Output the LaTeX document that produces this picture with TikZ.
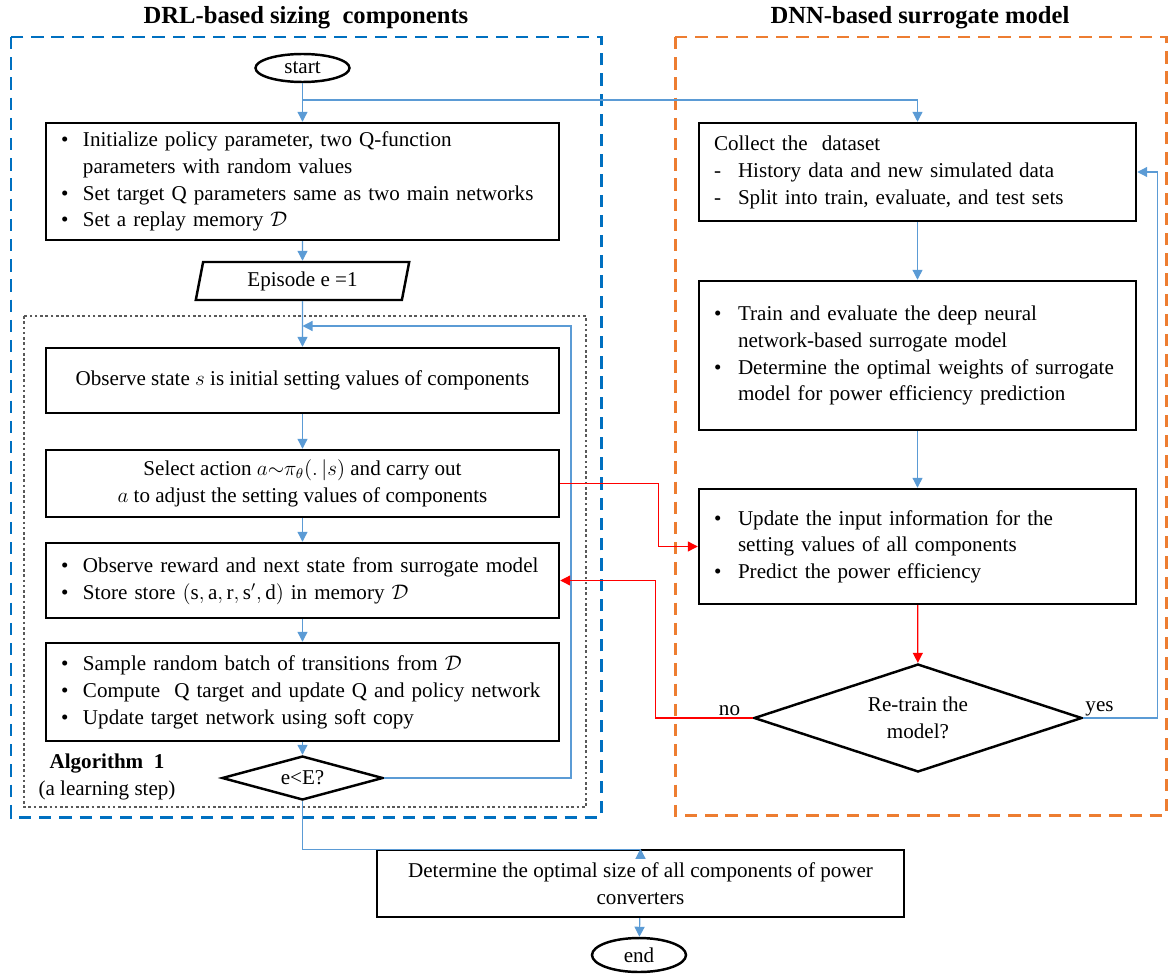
\documentclass[tikz,border=0pt]{standalone}
\usepackage{fontspec}
\setmainfont{Liberation Serif}
\usetikzlibrary{%
		shapes.geometric%
		,arrows.meta%
	}
\definecolor{linkblue}{RGB}{91,155,213}
\definecolor{frameblue}{RGB}{0,112,192}
\definecolor{frameorange}{RGB}{237,125,49}
\newcommand{\bodyfont}{\fontsize{12}{15.2}\selectfont}
\newcommand{\titlefont}{\fontsize{14}{17}\selectfont\bfseries}
\def\pu{0.02cm}
\newenvironment{blist}[1]{\begin{tabular}{@{}p{#1}@{}l@{}}}{\end{tabular}}

\begin{document}
\begin{tikzpicture}[x=0.02cm, y=-0.02cm,
		blk/.style={draw, line width=1.4pt, inner xsep=0.3cm, inner ysep=0pt, font=\bodyfont},
		term/.style={draw, ellipse, line width=1.4pt, inner sep=0pt, font=\bodyfont},
		cond/.style={draw, diamond, line width=1.4pt, inner sep=0pt, aspect=3, font=\bodyfont},
		io/.style={draw, trapezium, trapezium left angle=78, trapezium right angle=102, trapezium stretches=true, line width=1.4pt, inner sep=0pt, font=\bodyfont},
		flow/.style={linkblue, line width=0.7pt, -{Triangle[length=0.2cm, width=0.2cm]}},
		back/.style={red, line width=0.7pt, -{Triangle[length=0.2cm, width=0.2cm]}},
	]
			\useasboundingbox (0,0) rectangle (1168,973);
			\node[font=\titlefont] (ttlDRL) at (306,18) {DRL-based sizing\ \ components};
			\node[font=\titlefont] (ttlDNN) at (920,18) {DNN-based surrogate model};
			
			% frames
			\draw[frameblue, line width=1.7pt, dash pattern=on 7pt off 4.5pt] (11,37) rectangle (601,817);
			\draw[frameorange, line width=1.7pt, dash pattern=on 7pt off 4.5pt] (675,37) rectangle (1166,815);
			\draw[gray!70!black, line width=0.7pt, dash pattern=on 1.5pt off 1.5pt] (24,316) rectangle (586,807);
			
			% left column
			\node[term, minimum width=94*\pu, minimum height=28*\pu] (start) at (302.5,68) {start};
			\node[blk, text width=483*\pu, minimum height=117*\pu] (init) at (302.5,181.5) {%
				\begin{blist}{0.44cm}
				\textbullet & Initialize policy parameter, two Q-function\\
				& parameters with random values\\
				\textbullet & Set target Q parameters same as two main networks\\
				\textbullet & Set a replay memory $\mathcal{D}$
				\end{blist}};
			\node[io, minimum width=214*\pu, minimum height=38*\pu] (epi) at (302.5,281) {Episode e =1};
			\node[blk, minimum width=513*\pu, minimum height=65*\pu] (observe) at (302.5,380.5) {Observe state $s$ is initial setting values of components};
			\node[blk, align=center, minimum width=513*\pu, minimum height=67*\pu] (select) at (302.5,483.5) {Select action $a{\sim}\pi_\theta(.\,|s)$ and carry out\\ $a$ to adjust the setting values of components};
			\node[blk, text width=483*\pu, minimum height=75*\pu] (reward) at (302.5,580.5) {%
				\begin{blist}{0.44cm}
				\textbullet & Observe reward and next state from surrogate model\\
				\textbullet & Store store $(\mathrm{s},\mathrm{a},\mathrm{r},\mathrm{s}',\mathrm{d})$ in memory $\mathcal{D}$
				\end{blist}};
			\node[blk, text width=483*\pu, minimum height=98*\pu] (sample) at (302.5,692) {%
				\begin{blist}{0.44cm}
				\textbullet & Sample random batch of transitions from $\mathcal{D}$\\
				\textbullet & Compute\ \ Q target and update Q and policy network\\
				\textbullet & Update target network using soft copy
				\end{blist}};
			\node[cond, minimum width=161*\pu, minimum height=44*\pu] (check) at (302.5,778) {e<E?};
			\node[font=\bodyfont\bfseries] (algo) at (107,763) {Algorithm\ \ 1};
			\node[font=\bodyfont] (algonote) at (107,790) {(a learning step)};
			
			% right column
			\node[blk, text width=407*\pu, minimum height=98*\pu] (collect) at (917.5,172) {%
				\begin{blist}{0.48cm}
				\multicolumn{2}{@{}l@{}}{Collect the\ \ dataset}\\
				- & History data and new simulated data\\
				- & Split into train, evaluate, and test sets
				\end{blist}};
			\node[blk, text width=407*\pu, minimum height=149*\pu] (train) at (917.5,355.5) {%
				\begin{blist}{0.48cm}
				\textbullet & Train and evaluate the deep neural\\
				& network-based surrogate model\\
				\textbullet & Determine the optimal weights of surrogate\\
				& model for power efficiency prediction
				\end{blist}};
			\node[blk, text width=407*\pu, minimum height=115*\pu] (update) at (917.5,546.5) {%
				\begin{blist}{0.48cm}
				\textbullet & Update the input information for the\\
				& setting values of all components\\
				\textbullet & Predict the power efficiency
				\end{blist}};
			\node[cond, align=center, minimum width=328*\pu, minimum height=108*\pu] (retrain) at (918,718) {Re-train the\\ model?};
			
			% bottom
			\node[blk, align=center, minimum width=527*\pu, minimum height=67*\pu] (final) at (640.5,883.5) {Determine the optimal size of all components of power\\ converters};
			\node[term, minimum width=94*\pu, minimum height=34*\pu] (finish) at (639,955) {end};
			
			% connectors
			\coordinate (split) at (302.5,100);
			\coordinate (loop) at (571,326);
			\draw[flow] (start) -- (init);
			\draw[flow] (split) -| (collect.north);
			\draw[flow] (init) -- (epi);
			\draw[flow] (epi) -- (observe);
			\draw[flow] (check.east) -| (loop) -- (observe.north |- loop);
			\draw[flow] (observe) -- (select);
			\draw[flow] (select) -- (reward);
			\draw[flow] (reward) -- (sample);
			\draw[flow] (sample) -- (check);
			\draw[flow] (check.south) -- ++(0,48) -| (final.north);
			\draw[flow] (final) -- (finish);
			\draw[flow] (collect) -- (train);
			\draw[flow] (train) -- (update);
			\draw[back] (update) -- (retrain);
			\draw[back] (select.east) -- ++(98,0) |- (update.west);
			\draw[back] (retrain.west) -- node[above, pos=0.24, inner sep=1pt, font=\bodyfont, black]{no} ++(-97,0) |- (reward.east);
			\draw[flow] (retrain.east) -- node[above, pos=0.22, inner sep=1pt, font=\bodyfont, black]{yes} ++(74,0) |- (collect.east);
		\end{tikzpicture}
\end{document}
